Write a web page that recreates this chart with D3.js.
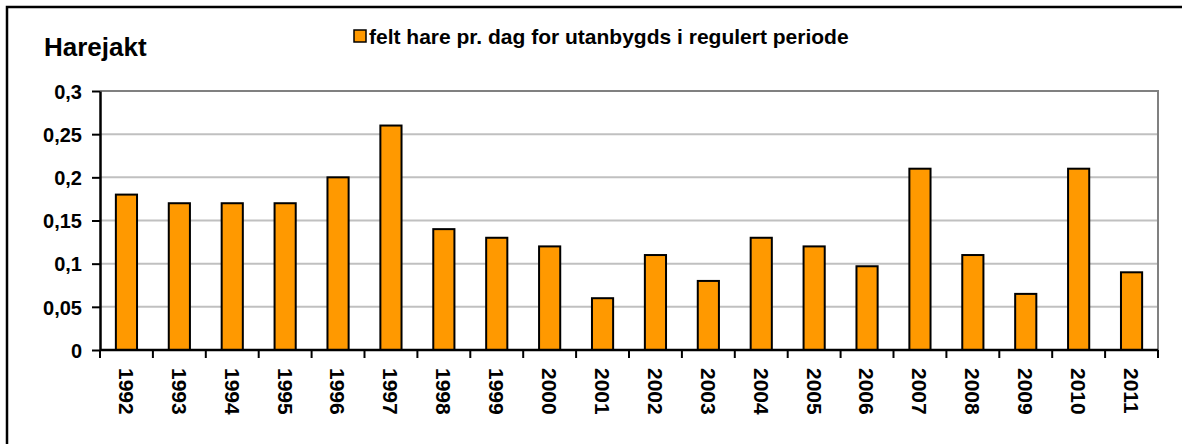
<!DOCTYPE html>
<html>
<head>
<meta charset="utf-8">
<script src="https://cdn.jsdelivr.net/npm/d3@7"></script>
<style>
  body { margin: 0; background: #fff; }
  svg text { font-family: "Liberation Sans", Arial, sans-serif; font-weight: bold; fill: #000; }
</style>
</head>
<body>
<svg id="chart"></svg>
<script>
// data
const years = ['1992','1993','1994','1995','1996','1997','1998','1999','2000','2001',
               '2002','2003','2004','2005','2006','2007','2008','2009','2010','2011'];
const values = [0.18, 0.17, 0.17, 0.17, 0.2, 0.26, 0.14, 0.13, 0.12, 0.06,
                0.11, 0.08, 0.13, 0.12, 0.097, 0.21, 0.11, 0.065, 0.21, 0.09];
const yTicks = [0, 0.05, 0.1, 0.15, 0.2, 0.25, 0.3];
const yTickLabels = ['0', '0,05', '0,1', '0,15', '0,2', '0,25', '0,3'];
const seriesName = 'felt hare pr. dag for utanbygds i regulert periode';
const title = 'Harejakt';

const width = 1182, height = 444;
const margin = {top: 91, right: 24, bottom: 94, left: 100};
const w = width - margin.left - margin.right;
const h = height - margin.top - margin.bottom;

const svg = d3.select('#chart').attr('width', width).attr('height', height);

// outer frame (only left/top edges fall inside the picture)
svg.append('rect')
  .attr('x', 7).attr('y', 7)
  .attr('width', width + 20).attr('height', height + 20)
  .attr('fill', 'none').attr('stroke', '#000').attr('stroke-width', 2.5);

svg.append('text')
  .attr('x', 44).attr('y', 56)
  .attr('font-size', '26px')
  .text(title);

// legend
svg.append('rect')
  .attr('x', 354).attr('y', 30)
  .attr('width', 12).attr('height', 12)
  .attr('fill', '#ff9900').attr('stroke', '#000').attr('stroke-width', 1.5);
svg.append('text')
  .attr('x', 369).attr('y', 44)
  .attr('font-size', '21px')
  .text(seriesName);

const chart = svg.append('g').attr('transform', `translate(${margin.left},${margin.top})`);

const x = d3.scaleBand().domain(years).range([0, w]).paddingInner(0.6).paddingOuter(0.3);
const xb = d3.scaleBand().domain(years).range([0, w]);
const y = d3.scaleLinear().domain([0, 0.3]).range([h, 0]);

// gridlines
chart.append('g')
  .selectAll('line')
  .data(yTicks.filter(d => d > 0 && d < 0.3))
  .join('line')
  .attr('x1', 0).attr('x2', w)
  .attr('y1', d => y(d)).attr('y2', d => y(d))
  .attr('stroke', '#c0c0c0').attr('stroke-width', 2);

// plot area border (top/right)
chart.append('path')
  .attr('d', `M0,${y(0.3)}H${w}V${h}`)
  .attr('fill', 'none').attr('stroke', '#808080').attr('stroke-width', 2);

// bars
chart.selectAll('.bar')
  .data(years.map((d, i) => ({year: d, value: values[i]})))
  .join('rect')
  .attr('class', 'bar')
  .attr('x', d => x(d.year))
  .attr('width', x.bandwidth())
  .attr('y', d => y(d.value))
  .attr('height', d => h - y(d.value))
  .attr('fill', '#ff9900')
  .attr('stroke', '#000')
  .attr('stroke-width', 2);

// y axis
const yAxis = d3.axisLeft(y)
  .tickValues(yTicks)
  .tickFormat((d, i) => yTickLabels[i])
  .tickSize(8).tickSizeOuter(0).tickPadding(10);
const yAxisG = chart.append('g').call(yAxis);
yAxisG.select('.domain').attr('stroke', '#000').attr('stroke-width', 2.5);
yAxisG.selectAll('.tick line').attr('stroke', '#000').attr('stroke-width', 2);
yAxisG.selectAll('.tick text')
  .attr('font-size', '20px').attr('font-family', null).attr('fill', '#000')
  .attr('dy', '0.36em');

// x axis: ticks on category boundaries
const xAxisG = chart.append('g').attr('transform', `translate(0,${h})`);
xAxisG.append('line')
  .attr('x1', 0).attr('x2', w)
  .attr('stroke', '#000').attr('stroke-width', 2.5);
xAxisG.selectAll('.xtick')
  .data(years.concat(['end']))
  .join('line')
  .attr('class', 'xtick')
  .attr('x1', d => d === 'end' ? w : xb(d))
  .attr('x2', d => d === 'end' ? w : xb(d))
  .attr('y1', 0).attr('y2', 8)
  .attr('stroke', '#000').attr('stroke-width', 2);
xAxisG.selectAll('.xlabel')
  .data(years)
  .join('text')
  .attr('class', 'xlabel')
  .attr('transform', d => `translate(${x(d) + x.bandwidth() / 2},18) rotate(90)`)
  .attr('dy', '0.36em')
  .attr('font-size', '21px')
  .text(d => d);
</script>
</body>
</html>
